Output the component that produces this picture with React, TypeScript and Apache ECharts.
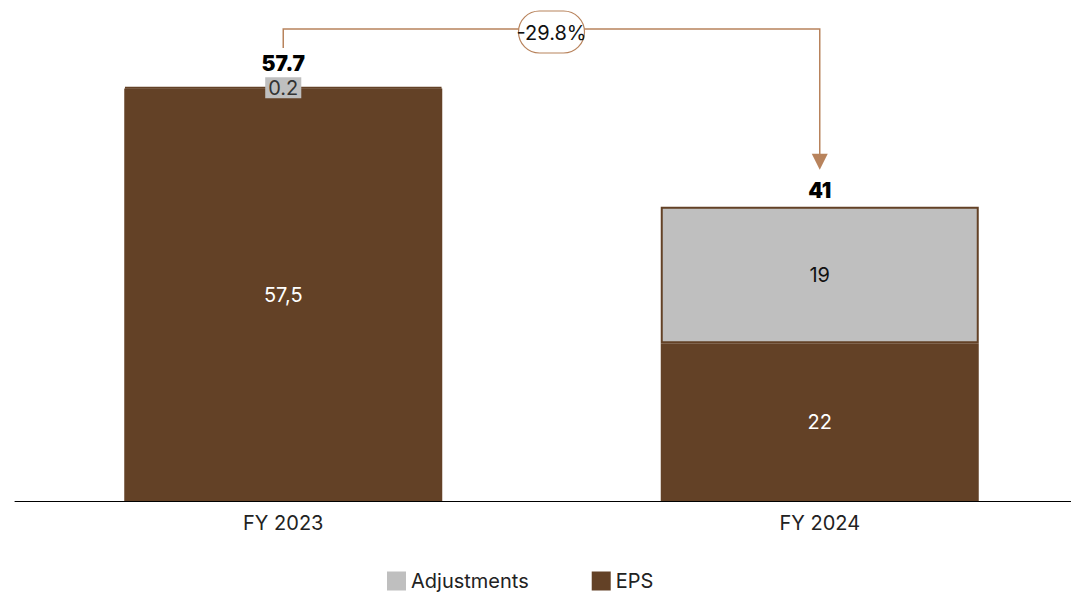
import React, { useEffect, useRef } from "react";
import * as echarts from "echarts";

const categories = ["FY 2023", "FY 2024"];
const epsValues = [57.5, 22];
const epsLabels = ["57,5", "22"];
const adjustmentValues = [0.2, 19];
const adjustmentLabels = ["0.2", "19"];
const totals = [57.7, 41];
const totalLabels = ["57.7", "41"];
const changeLabel = "-29.8%";

const BROWN = "#634126";
const GRAY = "#bfbfbf";
const ARROW = "#b8835c";
const FONT = "Inter, 'Noto Sans', sans-serif";

export default function App() {
  const ref = useRef<HTMLDivElement>(null);
  useEffect(() => {
    const chart = echarts.init(ref.current!, undefined, { renderer: "svg" });
    chart.setOption({
      animation: false,
      textStyle: { fontFamily: FONT },
      grid: { left: 15, width: 1073, top: 87, height: 414 },
      legend: {
        data: ["Adjustments", "EPS"],
        left: 382,
        top: 566,
        itemWidth: 19,
        itemHeight: 19,
        itemGap: 63,
        icon: "rect",
        itemStyle: { borderWidth: 0 },
        textStyle: { fontSize: 20, color: "#222", fontFamily: FONT },
      },
      xAxis: {
        type: "category",
        data: categories,
        axisLine: { lineStyle: { color: "#000", width: 1 } },
        axisTick: { show: false },
        axisLabel: { fontSize: 20, color: "#222", margin: 12, fontFamily: FONT },
      },
      yAxis: {
        type: "value",
        min: 0,
        max: 57.7,
        show: false,
        splitLine: { show: false },
      },
      series: [
        {
          name: "EPS",
          type: "bar",
          stack: "a",
          barWidth: 318,
          itemStyle: { color: BROWN },
          data: epsValues,
          label: {
            show: true,
            position: "inside",
            color: "#fff",
            fontSize: 20,
            fontFamily: FONT,
            formatter: (p: any) => epsLabels[p.dataIndex],
          },
        },
        {
          name: "Adjustments",
          type: "bar",
          stack: "a",
          barWidth: 318,
          itemStyle: { color: GRAY, borderColor: BROWN, borderWidth: 2 },
          data: adjustmentValues.map((v, i) =>
            i === 0
              ? {
                  value: v,
                  label: { backgroundColor: GRAY, padding: [1, 3, 0, 3], color: "#333" },
                }
              : { value: v }
          ),
          label: {
            show: true,
            position: "inside",
            color: "#111",
            fontSize: 20,
            fontFamily: FONT,
            formatter: (p: any) => adjustmentLabels[p.dataIndex],
          },
        },
        {
          name: "Total",
          type: "bar",
          stack: "a",
          barWidth: 318,
          itemStyle: { color: "transparent" },
          data: totals.map((_, i) => ({
            value: 0,
            label: { distance: i === 0 ? 13 : 6 },
          })),
          label: {
            show: true,
            position: "top",
            color: "#000",
            fontSize: 21,
            fontWeight: 900,
            fontFamily: FONT,
            formatter: (p: any) => totalLabels[p.dataIndex],
          },
        },
      ],
    });

    const p0 = chart.convertToPixel({ xAxisIndex: 0, yAxisIndex: 0 }, [0, totals[0]]);
    const p1 = chart.convertToPixel({ xAxisIndex: 0, yAxisIndex: 0 }, [1, totals[1]]);
    const lineY = 29;
    const x0 = p0[0];
    const x1 = p1[0];
    const mid = (x0 + x1) / 2;
    chart.setOption({
      graphic: [
        {
          type: "polyline",
          shape: {
            points: [
              [x0, p0[1] - 39],
              [x0, lineY],
              [x1, lineY],
              [x1, p1[1] - 52],
            ],
          },
          style: { stroke: ARROW, lineWidth: 1.5, fill: null },
          z: 10,
        },
        {
          type: "polygon",
          shape: {
            points: [
              [x1 - 8, p1[1] - 53],
              [x1 + 8, p1[1] - 53],
              [x1, p1[1] - 37],
            ],
          },
          style: { fill: ARROW },
          z: 10,
        },
        {
          type: "rect",
          shape: { x: mid - 33, y: 11, width: 66, height: 42, r: 21 },
          style: { fill: "#fff", stroke: ARROW, lineWidth: 1.2 },
          z: 11,
        },
        {
          type: "text",
          x: mid,
          y: 33,
          style: {
            text: changeLabel,
            fontSize: 20,
            fontFamily: FONT,
            fill: "#111",
            align: "center",
            verticalAlign: "middle",
          },
          z: 12,
        },
      ],
    });
    return () => chart.dispose();
  }, []);
  return (
    <div
      ref={ref}
      style={{ position: "fixed", left: 0, top: 0, width: 1090, height: 593, background: "#fff" }}
    />
  );
}
